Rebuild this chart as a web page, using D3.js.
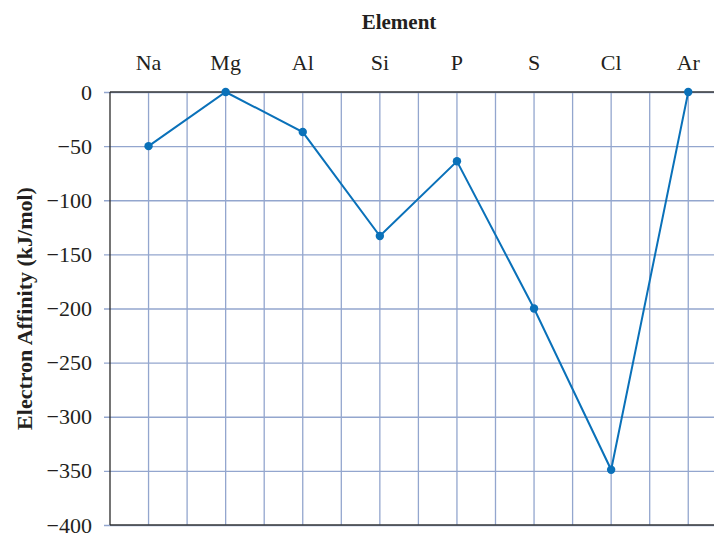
<!DOCTYPE html>
<html>
<head>
<meta charset="utf-8">
<title>Electron Affinity</title>
<script src="https://d3js.org/d3.v7.min.js"></script>
<style>
  body { margin: 0; background: #fff; }
  text { font-family: "Liberation Serif", "Times New Roman", serif; fill: #231f20; }
</style>
</head>
<body>
<svg width="714" height="534"></svg>
<script>

// data
const elements = ['Na', 'Mg', 'Al', 'Si', 'P', 'S', 'Cl', 'Ar'];
const affinity = [-50, 0, -37, -133, -64, -200, -349, 0];
const yTicks = [0, -50, -100, -150, -200, -250, -300, -350, -400];

const svg = d3.select('svg');

const plotLeft = 110, plotTop = 92, plotBottom = 525;
const step = 77.1;

// element positions
const x = d3.scalePoint()
    .domain(elements)
    .range([plotLeft + step / 2, plotLeft + step / 2 + step * (elements.length - 1)]);

const y = d3.scaleLinear()
    .domain([0, -400])
    .range([plotTop, plotBottom]);

const plotRight = plotLeft + step * elements.length;

const gridColor = '#93a6ce';

// vertical grid: on each element and halfway between
const gridX = [];
elements.forEach(e => {
    gridX.push(x(e));
    gridX.push(x(e) + step / 2);
});

svg.append('g')
    .selectAll('line')
    .data(gridX)
    .join('line')
        .attr('x1', d => d)
        .attr('x2', d => d)
        .attr('y1', plotTop)
        .attr('y2', plotBottom)
        .attr('stroke', gridColor)
        .attr('stroke-width', 1.3);

// horizontal grid + y ticks
const yAxis = d3.axisLeft(y)
    .tickValues(yTicks)
    .tickSize(-(plotRight - plotLeft))
    .tickPadding(12)
    .tickFormat(d3.format('d'));

const yAxisG = svg.append('g')
    .attr('transform', `translate(${plotLeft},0)`)
    .call(yAxis);
yAxisG.select('.domain').remove();
yAxisG.selectAll('.tick line')
    .attr('x1', -6)
    .attr('stroke', gridColor)
    .attr('stroke-width', 1.3);
yAxisG.selectAll('.tick text')
    .attr('x', -18)
    .style('font-size', '22px')
    .style('font-family', '"Liberation Serif", serif')
    .attr('fill', '#231f20');

// frame lines
svg.append('line')
    .attr('x1', plotLeft).attr('x2', plotRight)
    .attr('y1', y(0)).attr('y2', y(0))
    .attr('stroke', '#3a3a3a').attr('stroke-width', 1.3);
svg.append('line')
    .attr('x1', plotLeft).attr('x2', plotRight)
    .attr('y1', y(-400)).attr('y2', y(-400))
    .attr('stroke', '#3a3a3a').attr('stroke-width', 1.3);
svg.append('line')
    .attr('x1', plotLeft).attr('x2', plotLeft)
    .attr('y1', plotTop).attr('y2', plotBottom)
    .attr('stroke', '#2a2a2a').attr('stroke-width', 1.3);

// element labels on top
svg.append('g')
    .selectAll('text')
    .data(elements)
    .join('text')
        .attr('x', d => x(d))
        .attr('y', 70)
        .attr('text-anchor', 'middle')
        .style('font-size', '22px')
        .text(d => d);

// titles
svg.append('text')
    .attr('x', 399)
    .attr('y', 29)
    .attr('text-anchor', 'middle')
    .style('font-size', '21px')
    .style('font-weight', 'bold')
    .text('Element');

svg.append('text')
    .attr('transform', `translate(32,${(plotTop + plotBottom) / 2}) rotate(-90)`)
    .attr('text-anchor', 'middle')
    .style('font-size', '22px')
    .style('font-weight', 'bold')
    .text('Electron Affinity (kJ/mol)');

// series
const points = elements.map((e, i) => ({ el: e, v: affinity[i] }));

svg.append('path')
    .datum(points)
    .attr('fill', 'none')
    .attr('stroke', '#0a71b9')
    .attr('stroke-width', 2)
    .attr('d', d3.line().x(d => x(d.el)).y(d => y(d.v)));

svg.append('g')
    .selectAll('circle')
    .data(points)
    .join('circle')
        .attr('cx', d => x(d.el))
        .attr('cy', d => y(d.v))
        .attr('r', 4.2)
        .attr('fill', '#0a71b9');

</script>
</body>
</html>
